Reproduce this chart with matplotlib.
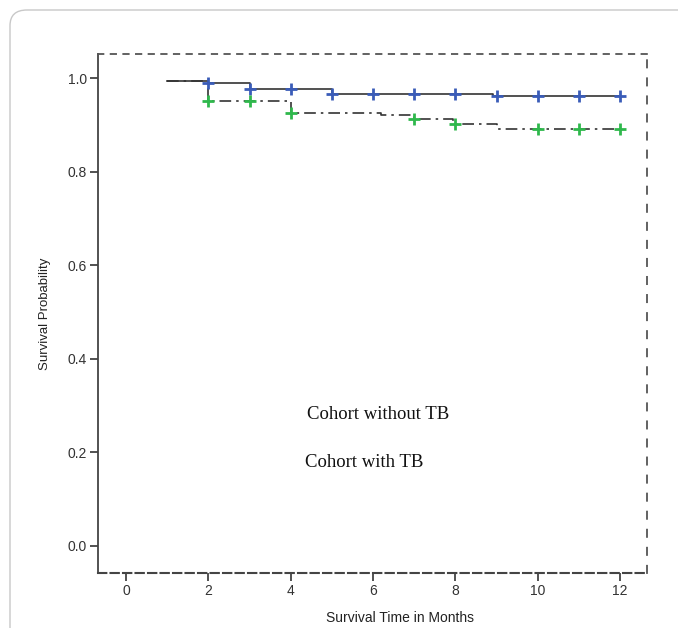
import matplotlib.pyplot as plt
from matplotlib.patches import FancyBboxPatch

# Kaplan-Meier steps
t_sans_tb = [1, 2, 3, 5, 8.9, 12]
s_sans_tb = [0.995, 0.991, 0.978, 0.966, 0.962, 0.962]
cens_sans_tb_t = [2, 3, 4, 5, 6, 7, 8, 9, 10, 11, 12]
cens_sans_tb_s = [0.991, 0.978, 0.978, 0.966, 0.966, 0.966, 0.966, 0.962, 0.962, 0.962, 0.962]

t_tb = [1, 2, 4, 6.2, 7, 7.95, 9, 12]
s_tb = [0.994, 0.951, 0.925, 0.922, 0.913, 0.902, 0.891, 0.891]
cens_tb_t = [2, 3, 4, 7, 8, 10, 11, 12]
cens_tb_s = [0.951, 0.951, 0.925, 0.913, 0.902, 0.891, 0.891, 0.891]

x_ticks = [0, 2, 4, 6, 8, 10, 12]
y_ticks = [0.0, 0.2, 0.4, 0.6, 0.8, 1.0]

plt.rcParams["font.family"] = ["Liberation Sans", "DejaVu Sans"]

fig = plt.figure(figsize=(6.78, 6.28), dpi=100)

# cadre arrondi gris autour
cadre = FancyBboxPatch((10 / 678, -0.1), 1.2, 1 - 10 / 628 + 0.1,
                       boxstyle="round,pad=0,rounding_size=0.025",
                       transform=fig.transFigure, fill=False,
                       edgecolor="#c8c8c8", linewidth=1.0)
fig.patches.append(cadre)

ax = fig.add_axes([98 / 678, 1 - 573 / 628, (647 - 98) / 678, (573 - 54) / 628])

ax.step(t_sans_tb, s_sans_tb, where="post", color="#333333", linewidth=1.2)
ax.step(t_tb, s_tb, where="post", color="#333333", linewidth=1.2,
        linestyle=(0, (7, 3, 1.5, 3)))

ax.plot(cens_sans_tb_t, cens_sans_tb_s, linestyle="none", marker="+",
        markersize=9, markeredgewidth=2, color="#3a5cb8")
ax.plot(cens_tb_t, cens_tb_s, linestyle="none", marker="+",
        markersize=9, markeredgewidth=2, color="#2fb84c")

ax.text(4.4, 0.28, "Cohort without TB", family="Liberation Serif",
        fontsize=13.5, color="#111111", va="center")
ax.text(4.35, 0.178, "Cohort with TB", family="Liberation Serif",
        fontsize=13.5, color="#111111", va="center")

ax.set_xlim(-0.68, 12.65)
ax.set_ylim(-0.058, 1.052)
ax.set_xticks(x_ticks)
ax.set_yticks(y_ticks)
ax.set_yticklabels([f"{v:.1f}" for v in y_ticks])
ax.tick_params(axis="both", direction="out", length=6, width=1.2,
               color="#333333", labelsize=10, labelcolor="#333333", pad=2)

ax.set_ylabel("Survival Probability", fontsize=9.5, color="#222222", labelpad=12)
fig.text(400 / 678, 1 - 618 / 628, "Survival Time in Months", fontsize=10,
         color="#222222", ha="center", va="center")

# bordures pointillées
ax.spines["left"].set_color("#444444")
ax.spines["left"].set_linewidth(1.3)
ax.spines["bottom"].set_color("#444444")
ax.spines["bottom"].set_linewidth(1.5)
ax.spines["bottom"].set_linestyle((0, (4, 2)))
ax.spines["top"].set_color("#555555")
ax.spines["top"].set_linewidth(1.3)
ax.spines["top"].set_linestyle((0, (3, 4)))
ax.spines["right"].set_color("#555555")
ax.spines["right"].set_linewidth(1.3)
ax.spines["right"].set_linestyle((0, (4, 6)))

fig.savefig("out.png", dpi=100)
